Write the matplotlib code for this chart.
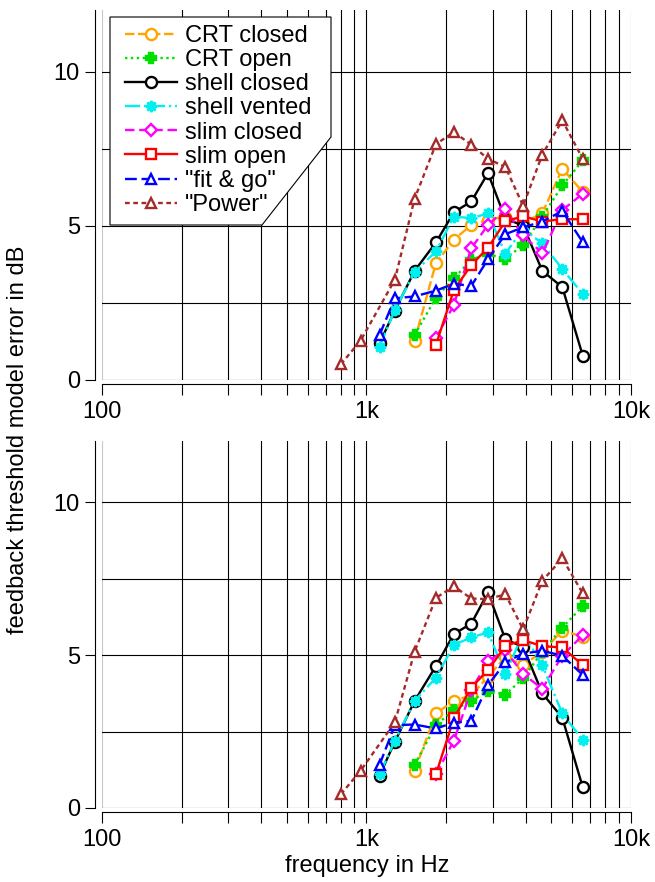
import numpy as np
import matplotlib
matplotlib.use("Agg")
import matplotlib.pyplot as plt
from matplotlib.patches import Polygon
from matplotlib.ticker import FixedLocator, NullFormatter

plt.rcParams['font.family'] = ['Liberation Sans', 'DejaVu Sans']

# frequency grids (Hz)
freq_power = [800, 950, 1280, 1520, 1830, 2140, 2490, 2880, 3350, 3910, 4620, 5500, 6570]
freq_shell = [1120, 1280, 1520, 1830, 2140, 2490, 2880, 3350, 3910, 4620, 5500, 6570]
freq_crt = [1520, 1830, 2140, 2490, 2880, 3350, 3910, 4620, 5500, 6570]
freq_slim = [1830, 2140, 2490, 2880, 3350, 3910, 4620, 5500, 6570]

labels = ['CRT closed', 'CRT open', 'shell closed', 'shell vented',
          'slim closed', 'slim open', '"fit & go"', '"Power"']

# top panel, error in dB
top_crt_closed = [1.28, 3.79, 4.55, 5.03, 5.2, 5.3, 5.1, 5.41, 6.85, 6.1]
top_crt_open = [1.46, 2.67, 3.3, 3.9, 4.08, 3.93, 4.38, 5.3, 6.31, 7.12]
top_shell_closed = [1.19, 2.25, 3.54, 4.46, 5.44, 5.79, 6.71, 5.23, 5.01, 3.54, 3.01, 0.79]
top_shell_vented = [1.08, 2.27, 3.5, 4.17, 5.3, 5.25, 5.4, 4.1, 4.9, 4.43, 3.6, 2.79]
top_slim_closed = [1.35, 2.44, 4.27, 5.03, 5.54, 4.69, 4.11, 5.51, 6.04]
top_slim_open = [1.14, 2.92, 3.73, 4.29, 5.15, 5.31, 5.14, 5.22, 5.21]
top_fitgo = [1.46, 2.65, 2.71, 2.9, 3.12, 3.05, 3.92, 4.73, 4.95, 5.14, 5.48, 4.47]
top_power = [0.51, 1.28, 3.25, 5.88, 7.65, 8.04, 7.63, 7.17, 6.91, 5.65, 7.31, 8.42, 7.17]

# bottom panel
bot_crt_closed = [1.22, 3.09, 3.5, 3.69, 4.29, 4.94, 4.67, 5.11, 5.8, 5.6]
bot_crt_open = [1.41, 2.71, 3.2, 3.51, 3.82, 3.71, 4.24, 5.11, 5.9, 6.6]
bot_shell_closed = [1.06, 2.17, 3.5, 4.64, 5.69, 6.03, 7.05, 5.51, 5.27, 3.75, 2.95, 0.68]
bot_shell_vented = [1.1, 2.2, 3.5, 4.26, 5.33, 5.58, 5.74, 4.38, 5.71, 4.67, 3.09, 2.22]
bot_slim_closed = [1.1, 2.2, 3.86, 4.8, 5.16, 4.38, 3.9, 4.98, 5.65]
bot_slim_open = [1.1, 2.93, 3.94, 4.51, 5.3, 5.49, 5.29, 5.25, 4.67]
bot_fitgo = [1.41, 2.71, 2.73, 2.6, 2.79, 2.85, 4.02, 4.76, 5.05, 5.14, 4.98, 4.35]
bot_power = [0.45, 1.22, 2.8, 5.11, 6.87, 7.25, 6.85, 6.83, 6.99, 5.84, 7.43, 8.16, 7.02]

# (color, linestyle, marker, filled)
styles = [
    ('#FFA500', (0, (4, 1.5)), 'o', False),
    ('#00E000', (0, (1, 1.5)), 'P', True),
    ('black', '-', 'o', False),
    ('#00F0F0', '-.', (8, 1, 0), True),
    ('#FF00FF', (0, (4, 2)), 'D', False),
    ('#FF0000', '-', 's', False),
    ('#0000FF', (0, (5, 2)), '^', False),
    ('#A52A2A', (0, (2, 1.5)), '^', False),
]
msizes = [8, 6.5, 8, 8, 6.5, 6.5, 7, 7]


def draw_panel(ax, series):
    xs = [freq_crt, freq_crt, freq_shell, freq_shell, freq_slim, freq_slim, freq_shell, freq_power]
    lines = []
    for (c, ls, mk, filled), x, y, ms in zip(styles, xs, series, msizes):
        ln, = ax.plot(x, y, color=c, ls=ls, lw=1.7, marker=mk, ms=ms,
                      mec=c, mfc=c if filled else 'white', mew=1.7)
        lines.append(ln)
    ax.set_xscale('log')
    ax.set_xlim(100, 10000)
    ax.set_ylim(0, 12)
    ax.spines['top'].set_visible(False)
    ax.spines['right'].set_visible(False)
    ax.spines['left'].set_position(('outward', 5))
    ax.spines['bottom'].set_position(('outward', 3))
    ax.set_xticks([100, 1000, 10000])
    ax.set_xticklabels(['100', '1k', '10k'])
    minors = [m * d for d in (100, 1000) for m in range(2, 10)]
    ax.xaxis.set_minor_locator(FixedLocator(minors))
    ax.xaxis.set_minor_formatter(NullFormatter())
    ax.set_yticks([0, 5, 10])
    ax.yaxis.set_minor_locator(FixedLocator([2.5, 7.5]))
    ax.tick_params(axis='x', which='both', direction='out', length=8, width=0.8,
                   labelsize=17, pad=4)
    ax.tick_params(axis='y', which='major', direction='out', length=7, width=0.8,
                   labelsize=17, pad=4)
    ax.tick_params(axis='y', which='minor', length=0)
    ax.grid(True, which='both', color='black', lw=0.8)
    # the edge lines at 100 and 10k are lighter
    xg = ax.xaxis.get_major_ticks()
    xg[0].gridline.set_color('#c8c8c8')
    xg[-1].gridline.set_color('#808080')
    ax.set_axisbelow(True)
    return lines


fig = plt.figure(figsize=(6.55, 8.82), dpi=100)
ax1 = fig.add_axes([102 / 655, 1 - 380 / 882, 529 / 655, 370 / 882])
ax2 = fig.add_axes([102 / 655, 1 - 808 / 882, 529 / 655, 367 / 882])

lines = draw_panel(ax1, [top_crt_closed, top_crt_open, top_shell_closed, top_shell_vented,
                         top_slim_closed, top_slim_open, top_fitgo, top_power])
draw_panel(ax2, [bot_crt_closed, bot_crt_open, bot_shell_closed, bot_shell_vented,
                 bot_slim_closed, bot_slim_open, bot_fitgo, bot_power])

# legend box with the cut corner
W, H = 655.0, 882.0
pts = [(110, 17), (331, 17), (331, 137), (262, 225), (110, 225)]
box = Polygon([(x / W, 1 - y / H) for x, y in pts], closed=True, transform=fig.transFigure,
              facecolor='white', edgecolor='black', lw=0.8, zorder=4)
ax1.add_patch(box)
box.set_clip_on(False)

leg = ax1.legend(lines, labels, loc='upper left', bbox_to_anchor=(118 / W, 1 - 18 / H),
                 bbox_transform=fig.transFigure, frameon=False, fontsize=17,
                 handlelength=2.2, handletextpad=0.35, labelspacing=0.09,
                 borderpad=0.3, borderaxespad=0)
leg.set_zorder(5)

fig.text(18 / W, 1 - 440 / H, 'feedback threshold model error in dB', rotation=90,
         ha='center', va='center', fontsize=17)
fig.text(367 / W, 1 - 866 / H, 'frequency in Hz', ha='center', va='center', fontsize=17)

fig.savefig('out.png', dpi=100)
